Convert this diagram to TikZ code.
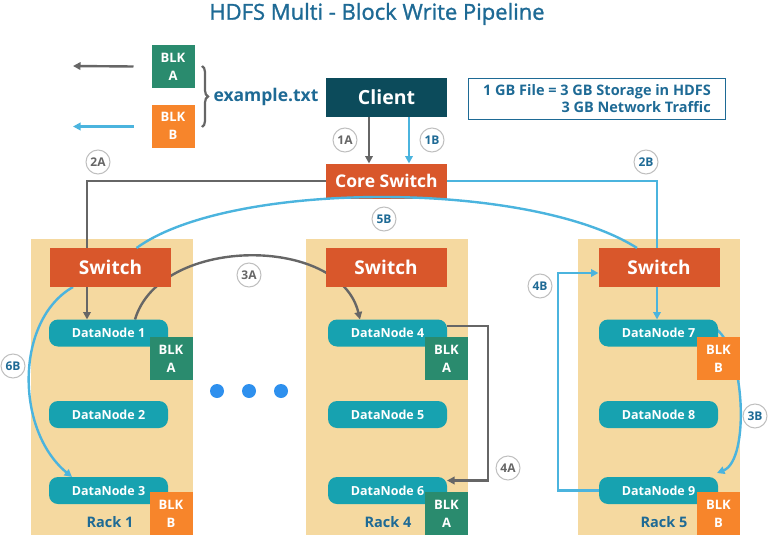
\documentclass[tikz,border=0pt]{standalone}
\usepackage{fontspec}
\setmainfont{Open Sans}
\newfontfamily\titlefont[FakeBold=1.2]{Open Sans}
\usetikzlibrary{arrows.meta,positioning,decorations.pathreplacing}

\definecolor{hdfsblue}{HTML}{1E6A95}
\definecolor{clientc}{HTML}{0C4B5B}
\definecolor{switchc}{HTML}{D9572B}
\definecolor{dnc}{HTML}{17A2B0}
\definecolor{blkgreen}{HTML}{2A8B6E}
\definecolor{blkorange}{HTML}{F7852B}
\definecolor{rackc}{HTML}{F5D9A0}
\definecolor{lineblue}{HTML}{4BB4DE}
\definecolor{linegray}{HTML}{666666}
\definecolor{dotc}{HTML}{2E90EE}

\pgfdeclarelayer{back}
\pgfdeclarelayer{wires}
\pgfsetlayers{back,wires,main}

\begin{document}
\begin{tikzpicture}[x=1pt,y=-1pt,
  every node/.style={inner sep=0pt,outer sep=0pt},
  switchbox/.style={fill=switchc,text=white,minimum width=121pt,minimum height=39pt,
    font=\bfseries\fontsize{19}{20}\selectfont},
  datanode/.style={fill=dnc,text=white,rounded corners=9pt,minimum width=119pt,
    minimum height=27pt,font=\bfseries\fontsize{12.5}{14}\selectfont},
  blk/.style={fill=#1,text=white,minimum size=43pt,align=center,
    font=\bfseries\fontsize{13}{18}\selectfont},
  rack/.style={fill=rackc,minimum width=162pt,minimum height=296pt},
  racklabel/.style={text=hdfsblue,font=\bfseries\fontsize{14.5}{15}\selectfont},
  steplabel/.style={circle,fill=white,draw=black!25,line width=1pt,minimum size=24pt,
    text=#1,font=\bfseries\fontsize{12}{12}\selectfont},
  gline/.style={draw=linegray,line width=2.4pt,-{Triangle[length=7.5pt,width=7.5pt]}},
  bline/.style={draw=lineblue,line width=2.4pt,-{Triangle[length=7.5pt,width=7.5pt]}}]
\useasboundingbox (0,0) rectangle (768,535);

%%Title
\node (title) at (377,14) [text=hdfsblue,font=\titlefont\fontsize{22}{24}\selectfont]
  {HDFS Multi - Block Write Pipeline};

%%File
\node (fileA) at (173,66.5) [blk=blkgreen] {BLK\\A};
\node (fileB) at (173,126) [blk=blkorange] {BLK\\B};
\coordinate (outA) at (73,66);
\coordinate (outB) at (73,126.5);
\node (file) at (266,97) [text=hdfsblue,font=\bfseries\fontsize{17.5}{18}\selectfont] {example.txt};

%%Client
\node (client) at (386.5,97.5) [fill=clientc,text=white,minimum width=121pt,minimum height=39pt,
  font=\bfseries\fontsize{19.5}{20}\selectfont] {Client};
\node (core) at (386.5,181) [switchbox,minimum height=35pt,font=\bfseries\fontsize{17.5}{18}\selectfont]
  {Core Switch};
\node (note) at (597,99) [draw=hdfsblue,line width=1.5pt,minimum width=257pt,minimum height=41pt,
  text=hdfsblue,align=right,font=\bfseries\fontsize{14.5}{17}\selectfont]
  {1 GB File = 3 GB Storage in HDFS\\3 GB Network Traffic};

%%Racks
\begin{pgfonlayer}{back}
\node (rack1) at (111.5,387) [rack] {};
\node (rack4) at (387,387) [rack] {};
\node (rack5) at (659,387) [rack] {};
\end{pgfonlayer}

%%Rack 1
\node (sw1) at (110.5,267.5) [switchbox] {Switch};
\node (dn1) at (108.5,333) [datanode] {DataNode 1};
\node (dn2) at (108.5,414.5) [datanode] {DataNode 2};
\node (dn3) at (108.5,490.5) [datanode] {DataNode 3};
\node (blk1) at (171,358.5) [blk=blkgreen] {BLK\\A};
\node (blk3) at (171,513.5) [blk=blkorange] {BLK\\B};
\node (r1) at (110,522) [racklabel] {Rack 1};

%%Rack 4
\node (sw4) at (386,267.5) [switchbox] {Switch};
\node (dn4) at (387.5,333) [datanode] {DataNode 4};
\node (dn5) at (387.5,414.5) [datanode] {DataNode 5};
\node (dn6) at (387.5,490.5) [datanode] {DataNode 6};
\node (blk4) at (446.5,358.5) [blk=blkgreen] {BLK\\A};
\node (blk6) at (446.5,513.5) [blk=blkgreen] {BLK\\A};
\node (r4) at (388,522) [racklabel] {Rack 4};

%%Rack 5
\node (sw5) at (659,267.5) [switchbox] {Switch};
\node (dn7) at (658.5,333) [datanode] {DataNode 7};
\node (dn8) at (658.5,414.5) [datanode] {DataNode 8};
\node (dn9) at (658.5,490.5) [datanode] {DataNode 9};
\node (blk7) at (718.5,358.5) [blk=blkorange] {BLK\\B};
\node (blk9) at (718.5,513.5) [blk=blkorange] {BLK\\B};
\node (r5) at (664,522) [racklabel] {Rack 5};

%%Dots
\fill[dotc] (217,391) circle (7) (249,391) circle (7) (281,391) circle (7);

%%Pipeline
\begin{pgfonlayer}{wires}
\draw[gline] ([xshift=-18]fileA.west) -- (outA);
\draw[bline] ([xshift=-18]fileB.west |- outB) -- (outB);
\draw[linegray,line width=2.2pt,decorate,decoration={brace,amplitude=6pt}] (202,66) -- (202,127);
\draw[gline] ([xshift=-17.5]client.south) -- ([xshift=-17.5]core.north);
\draw[bline] ([xshift=22.5]client.south) -- ([xshift=22.5]core.north);
\draw[gline] (core.west) -| ([xshift=-21.5]dn1.north);
\draw[bline] (core.east) -| ([xshift=-1.5]dn7.north);
\draw[gline] ([xshift=26.5]dn1.north) .. controls (160,235) and (340,235) .. ([xshift=-27.5]dn4.north);
\draw[gline] ([yshift=7]dn4.east) -- ++(41,0) |- ([yshift=10]dn6.east);
\draw[bline] ([xshift=-37.5]sw1.south) .. controls (15,320) and (15,430) .. ([xshift=-36.5]dn3.north);
\draw[bline] ([xshift=-2,yshift=4]dn7.east) .. controls (745,350) and (750,460) .. ([xshift=-1,yshift=4]dn9.north east);
\draw[bline] (dn9.west) -- ++(-41,0) |- ([yshift=-5.5]sw5.west);
\end{pgfonlayer}
\draw[bline,-] ([xshift=26]sw1.north) .. controls (230,180) and (530,180) .. ([xshift=-22]sw5.north);

%%Label
\node (l1a) at (345,140) [steplabel=linegray] {1A};
\node (l1b) at (432,140) [steplabel=hdfsblue] {1B};
\node (l2a) at (98,162) [steplabel=linegray] {2A};
\node (l2b) at (646,162) [steplabel=hdfsblue] {2B};
\node (l5b) at (384,219) [steplabel=hdfsblue] {5B};
\node (l3a) at (249,275) [steplabel=linegray] {3A};
\node (l4b) at (540,286) [steplabel=hdfsblue] {4B};
\node (l6b) at (13,366) [steplabel=hdfsblue] {6B};
\node (l4a) at (508,468) [steplabel=linegray] {4A};
\node (l3b) at (755,416) [steplabel=hdfsblue] {3B};

\end{tikzpicture}
\end{document}
